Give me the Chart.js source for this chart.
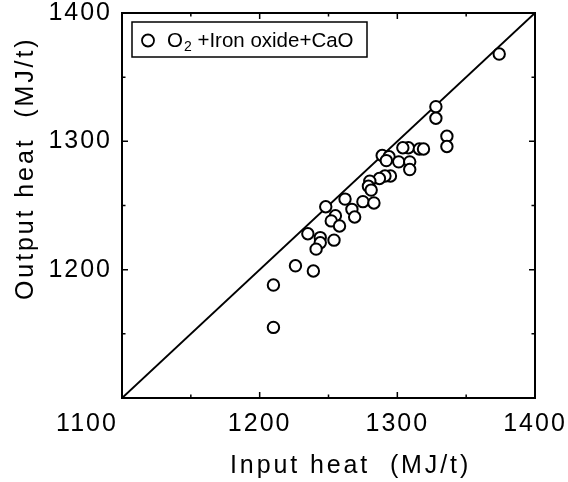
<!DOCTYPE html>
<html>
<head>
<meta charset="utf-8">
<script src="https://cdn.jsdelivr.net/npm/chart.js@4"></script>
<style>
    body { margin: 0; background: #fff; }
    #wrap { width: 568px; height: 482px; }
</style>
</head>
<body>
<div id="wrap"><canvas id="myChart" width="568" height="482"></canvas></div>
<script>
const axisMin = 1100;
const axisMax = 1400;
const majorTicks = [1100, 1200, 1300, 1400];
const minorTicks = [1150, 1250, 1350];
const seriesLabel = 'O₂ +Iron oxide+CaO';
const xTitle = 'Input heat  (MJ/t)';
const yTitle = 'Output heat  (MJ/t)';

const inputHeat = [1374, 1328, 1328, 1336, 1336, 1308, 1304, 1316, 1319, 1289,
                   1294, 1292, 1301, 1309, 1309, 1295, 1291, 1287, 1280, 1279,
                   1281, 1275, 1283, 1262, 1248, 1267, 1269, 1255, 1252, 1258,
                   1235, 1244, 1244, 1254, 1241, 1226, 1239, 1210, 1210];
const outputHeat = [1368, 1327, 1318, 1304, 1296, 1295, 1295, 1294, 1294, 1289,
                    1288, 1285, 1284, 1284, 1278, 1273, 1273, 1271, 1269, 1265,
                    1262, 1253, 1252, 1255, 1249, 1247, 1241, 1242, 1238, 1234,
                    1228, 1225, 1221, 1223, 1216, 1203, 1199, 1188, 1155];

const FONT = '"Liberation Sans", Arial, sans-serif';

window.addEventListener('DOMContentLoaded', () => {
    drawChart();
});

// frame, inward ticks, corner label, axis titles and legend box
const framePlugin = {
    id: 'frame',
    beforeLayout(chart) { chart.ctx.letterSpacing = '2px'; },
    beforeDraw(chart) { chart.ctx.letterSpacing = '2px'; },
    afterDraw(chart) {
        const ctx = chart.ctx;
        const { left, right, top, bottom } = chart.chartArea;
        const xs = chart.scales.x, ys = chart.scales.y;
        ctx.save();
        ctx.strokeStyle = '#000';
        ctx.lineWidth = 2;
        ctx.strokeRect(left, top, right - left, bottom - top);

        ctx.lineWidth = 1.5;
        ctx.beginPath();
        const marks = majorTicks.map(v => [v, 6]).concat(minorTicks.map(v => [v, 3.5]));
        marks.forEach(([v, len]) => {
            const px = xs.getPixelForValue(v), py = ys.getPixelForValue(v);
            ctx.moveTo(px, bottom); ctx.lineTo(px, bottom - len);
            ctx.moveTo(px, top); ctx.lineTo(px, top + len);
            ctx.moveTo(left, py); ctx.lineTo(left + len, py);
            ctx.moveTo(right, py); ctx.lineTo(right - len, py);
        });
        ctx.stroke();

        ctx.fillStyle = '#000';
        ctx.font = '25px ' + FONT;
        ctx.letterSpacing = '2px';
        ctx.textAlign = 'center';
        ctx.textBaseline = 'middle';
        ctx.fillText(String(axisMin), xs.getPixelForValue(axisMin) - 35, bottom + 26.5);

        ctx.letterSpacing = '2.9px';
        ctx.textAlign = 'left';
        ctx.textBaseline = 'alphabetic';
        ctx.fillText(xTitle, left + 108, 473);
        ctx.save();
        ctx.translate(33, 300);
        ctx.rotate(-Math.PI / 2);
        ctx.fillText(yTitle, 0, 0);
        ctx.restore();

        // legend: box, open circle, label with a real subscript digit
        ctx.lineWidth = 1.5;
        ctx.strokeRect(left + 10, top + 9, 235, 35);
        ctx.beginPath();
        ctx.arc(left + 26, top + 27.5, 6, 0, 2 * Math.PI);
        ctx.fillStyle = '#fff';
        ctx.fill();
        ctx.lineWidth = 1.8;
        ctx.stroke();
        ctx.fillStyle = '#000';
        ctx.letterSpacing = '0px';
        const parts = seriesLabel.split('₂');
        let tx = left + 45;
        const base = top + 34;
        ctx.font = '20.5px ' + FONT;
        ctx.fillText(parts[0], tx, base);
        tx += ctx.measureText(parts[0]).width + 1;
        ctx.font = '14px ' + FONT;
        ctx.fillText('2', tx, base + 4);
        tx += ctx.measureText('2').width;
        ctx.font = '20.5px ' + FONT;
        ctx.fillText(parts[1], tx, base);
        ctx.restore();
    }
};

function drawChart() {
    const ctx = document.getElementById('myChart').getContext('2d');
    const points = inputHeat.map((x, i) => ({ x: x, y: outputHeat[i] }));
    const tickFont = { family: FONT, size: 25, lineHeight: 1 };
    new Chart(ctx, {
        type: 'scatter',
        data: {
            datasets: [{
                label: seriesLabel,
                data: points,
                pointRadius: 5.7,
                pointHoverRadius: 5.7,
                pointBorderWidth: 2,
                pointBackgroundColor: '#fff',
                pointBorderColor: '#000',
                order: 0
            }, {
                label: 'y = x',
                data: [{ x: axisMin, y: axisMin }, { x: axisMax, y: axisMax }],
                showLine: true,
                borderColor: '#000',
                borderWidth: 2,
                pointRadius: 0,
                order: 1
            }]
        },
        options: {
            responsive: false,
            animation: false,
            layout: { padding: { top: 13, right: 33, left: 0, bottom: 0 } },
            plugins: {
                legend: { display: false },
                tooltip: { enabled: false }
            },
            scales: {
                x: {
                    type: 'linear',
                    min: axisMin,
                    max: axisMax,
                    afterBuildTicks: s => { s.ticks = majorTicks.map(v => ({ value: v })); },
                    ticks: {
                        padding: 14,
                        color: '#000',
                        font: tickFont,
                        maxRotation: 0,
                        callback: v => v === axisMin ? '' : String(v)
                    },
                    grid: { display: false, drawTicks: false },
                    border: { display: false },
                    afterFit: s => { s.height = 84; s.paddingLeft = 0; s.paddingRight = 0; }
                },
                y: {
                    type: 'linear',
                    min: axisMin,
                    max: axisMax,
                    afterBuildTicks: s => { s.ticks = majorTicks.map(v => ({ value: v })); },
                    ticks: {
                        padding: 10,
                        color: '#000',
                        font: tickFont,
                        callback: v => v === axisMin ? '' : String(v)
                    },
                    grid: { display: false, drawTicks: false },
                    border: { display: false },
                    afterFit: s => { s.width = 122; s.paddingTop = 0; s.paddingBottom = 0; }
                }
            }
        },
        plugins: [framePlugin]
    });
}
</script>
</body>
</html>
